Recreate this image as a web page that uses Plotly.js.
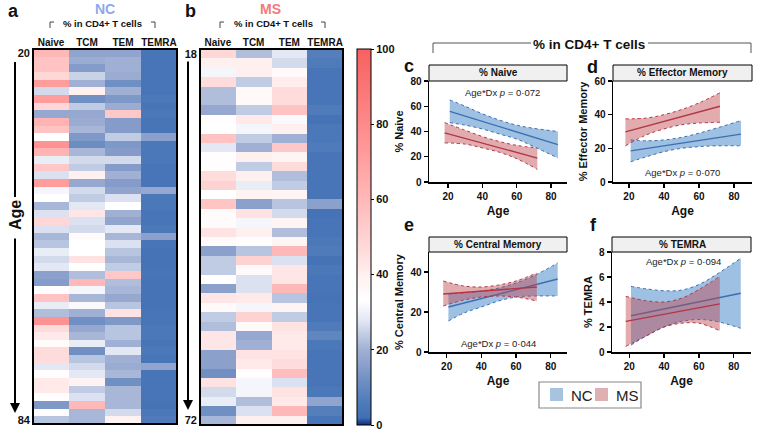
<!DOCTYPE html>
<html><head><meta charset="utf-8">
<script src="https://cdn.plot.ly/plotly-3.0.1.min.js"></script>
<style>html,body{margin:0;padding:0;background:#fff}#chart{width:771px;height:439px}</style>
</head><body><div id="chart"></div>
<script>
// ---------- Heatmap data (% in CD4+ T cells), rows ordered by age ----------
const cellTypes = ['Naive','TCM','TEM','TEMRA'];
const ncAgeLabels = ['20','84'];
const msAgeLabels = ['18','72'];
const ncNaive = [60,56,56,48,72,26,72,48,18,62,56,33,76,62,29,54,27,72,31,33,21,27,48,27,21,23,29,26,28,16,15,34,56,29,22,77,46,42,35,46,46,28,34,42,42,34,14,34,23];
const ncTCM   = [17,19,15,25,20,40,12,24,18,19,21,14,11,21,26,24,40,18,26,24,28,43,27,26,35,33,33,44,33,22,60,31,21,32,20,12,18,21,29,12,23,26,28,39,24,27,60,21,21];
const ncTEM   = [17,20,20,19,12,20,14,19,54,15,15,24,14,15,26,15,20,15,17,27,33,20,17,28,21,27,23,21,24,54,22,21,18,23,44,14,23,23,20,28,20,19,21,12,21,21,21,26,39];
const ncTEMRA = [4,4,4,4,4,4,5,4,5,4,4,16,5,5,5,4,4,4,18,5,5,4,4,5,16,4,3,3,3,4,3,3,3,3,4,4,5,5,4,5,4,17,4,4,4,4,3,5,6];
const msNaive = [48,40,31,46,22,22,18,34,33,56,28,34,34,46,50,33,55,35,35,44,35,16,24,24,34,16,43,36,24,22,43,43,16,16,12,44,26,29,12,21];
const msTCM   = [22,40,40,24,36,36,24,42,31,24,20,40,24,40,29,38,16,44,31,40,34,23,50,36,27,27,42,31,50,36,18,20,44,42,34,31,31,22,27,40];
const msTEM   = [28,26,36,41,46,46,56,32,40,20,54,38,46,22,24,38,23,26,38,22,38,60,27,43,43,60,23,38,24,44,42,42,44,46,58,27,44,42,60,40];
const msTEMRA = [7,6,4,4,4,4,6,3,5,5,6,4,4,4,4,4,16,3,4,4,5,6,3,5,4,4,3,4,4,6,9,5,4,4,4,4,5,17,7,4];

// ---------- Regression panels: fitted line + 95% CI ----------
const ncAge = [21,30,40,50,60,70,84];
const msAge = [18,30,40,50,60,72];
const ncFitAge = [21,84];
const msFitAge = [18,72];
// c: % Naive
const naiveNCfit = [56,29.6];
const naiveNChi  = [65,60,54,49,45,42.5,40];
const naiveNClo  = [47,45,42,38,34,28,19];
const naiveMSfit = [39,19];
const naiveMShi  = [47,41,36,32,29,27];
const naiveMSlo  = [31,30,27,23.5,18.5,10];
// d: % Effector Memory
const emNCfit = [18.5,28.5];
const emNChi  = [25,24.5,25,26.5,29,32,36.5];
const emNClo  = [12,15,18,20,21,21.5,21.5];
const emMSfit = [29.8,45];
const emMShi  = [37.5,38,40,43,47,53];
const emMSlo  = [21.5,28,31.5,34,35,35.5];
// e: % Central Memory
const cmNCfit = [22.5,36.5];
const cmNChi  = [29,29.5,30.5,32,34.5,38,44.5];
const cmNClo  = [15.5,19.5,22.5,25.5,27.5,28,28];
const cmMSfit = [29,32.5];
const cmMShi  = [35.5,33,32.5,33.5,35.5,39.5];
const cmMSlo  = [23,26,27.5,28,27.5,25.5];
// f: % TEMRA
const teNCfit = [2.9,4.7];
const teNChi  = [5.25,5.05,4.9,4.95,5.4,6.2,7.5];
const teNClo  = [0.55,1.3,2.0,2.45,2.6,2.45,1.9];
const teMSfit = [2.45,3.85];
const teMShi  = [4.45,4.1,4.0,4.3,5.0,6.05];
const teMSlo  = [0.45,1.3,2.0,2.3,2.3,1.7];
const pValues = ['0·072','0·070','0·044','0·094'];
const groups = ['NC','MS'];

// ---------- helpers ----------
const W=771,H=439;
const X=p=>p/W, Y=p=>1-p/H;
const FONT='Liberation Sans, Arial, Helvetica, sans-serif';
const zip=(a,b,c,d)=>a.map((v,i)=>[v,b[i],c[i],d[i]]);
const cs=[[0,'#0d2a7e'],[0.02,'#4270b4'],[0.05,'#4a78b8'],[0.12,'#7090c4'],[0.16,'#8ca0cc'],[0.20,'#a0b0d4'],[0.24,'#c0cce4'],[0.28,'#e4e8f4'],[0.33,'#ffffff'],[0.40,'#fff0f0'],[0.46,'#ffdcdc'],[0.54,'#ffc8c8'],[0.60,'#ffb8b8'],[0.72,'#ff9c9c'],[0.80,'#fd8a8a'],[1,'#f86060']];

const NCL='#3d6fb0', MSL='#b23548';
const NCF='rgba(60,130,200,0.5)', MSF='rgba(190,72,78,0.45)';

const data=[];
data.push({type:'heatmap',z:zip(ncNaive,ncTCM,ncTEM,ncTEMRA),x:cellTypes,y:ncNaive.map((_,i)=>i),
  zmin:0,zmax:100,colorscale:cs,showscale:false,xaxis:'x',yaxis:'y',hoverinfo:'skip'});
data.push({type:'heatmap',z:zip(msNaive,msTCM,msTEM,msTEMRA),x:cellTypes,y:msNaive.map((_,i)=>i),
  zmin:0,zmax:100,colorscale:cs,xaxis:'x2',yaxis:'y2',hoverinfo:'skip',
  colorbar:{x:X(357),xanchor:'left',y:Y(425),yanchor:'bottom',len:376/H,lenmode:'fraction',thickness:14,
    xpad:0,ypad:0,outlinewidth:1,outlinecolor:'#000',tickvals:[0,20,40,60,80,100],ticks:'outside',ticklen:3,
    tickcolor:'#000',tickfont:{family:FONT,size:11,weight:'bold',color:'#111'}}});

function group(ages,fitAges,lo,hi,fit,lc,fc,ax,name){
  data.push({type:'scatter',x:ages,y:lo,mode:'lines',line:{color:lc,width:1,dash:'dot',shape:'spline'},xaxis:'x'+ax,yaxis:'y'+ax,showlegend:false,hoverinfo:'skip'});
  data.push({type:'scatter',x:ages,y:hi,mode:'lines',line:{color:lc,width:1,dash:'dot',shape:'spline'},fill:'tonexty',fillcolor:fc,xaxis:'x'+ax,yaxis:'y'+ax,showlegend:false,hoverinfo:'skip'});
  data.push({type:'scatter',x:fitAges,y:fit,mode:'lines',name:name,line:{color:lc,width:1.3},xaxis:'x'+ax,yaxis:'y'+ax,showlegend:false,hoverinfo:'skip'});
}
group(ncAge,ncFitAge,naiveNClo,naiveNChi,naiveNCfit,NCL,NCF,3,groups[0]);
group(msAge,msFitAge,naiveMSlo,naiveMShi,naiveMSfit,MSL,MSF,3,groups[1]);
group(ncAge,ncFitAge,emNClo,emNChi,emNCfit,NCL,NCF,4,groups[0]);
group(msAge,msFitAge,emMSlo,emMShi,emMSfit,MSL,MSF,4,groups[1]);
group(ncAge,ncFitAge,cmNClo,cmNChi,cmNCfit,NCL,NCF,5,groups[0]);
group(msAge,msFitAge,cmMSlo,cmMShi,cmMSfit,MSL,MSF,5,groups[1]);
group(ncAge,ncFitAge,teNClo,teNChi,teNCfit,NCL,NCF,6,groups[0]);
group(msAge,msFitAge,teMSlo,teMShi,teMSfit,MSL,MSF,6,groups[1]);

const bold=(s)=>({family:FONT,size:s,weight:'bold',color:'#111'});
const hmX=(d,anchor)=>({domain:d,anchor:anchor,side:'top',type:'category',ticks:'',showline:false,showgrid:false,zeroline:false,
  tickfont:bold(10),fixedrange:true});
const hmY=(d,anchor,lab,n)=>({domain:d,anchor:anchor,autorange:'reversed',tickvals:[0,n-1],ticktext:lab,ticks:'',
  showgrid:false,zeroline:false,showline:false,tickfont:bold(11),ticklabelstandoff:2});
const pX=(d,anchor,r)=>({domain:d,anchor:anchor,range:r,tickvals:[20,40,60,80],showline:true,linecolor:'#000',linewidth:1.5,
  ticks:'outside',ticklen:4,tickwidth:1.2,tickcolor:'#000',tickfont:bold(10),showgrid:false,zeroline:false,
  title:{text:'Age',font:bold(12),standoff:6}});
const pY=(d,anchor,r,tv,t)=>({domain:d,anchor:anchor,range:r,tickvals:tv,showline:true,linecolor:'#000',linewidth:1.5,
  ticks:'outside',ticklen:4,tickwidth:1.2,tickcolor:'#000',tickfont:bold(10),showgrid:false,zeroline:false,
  title:{text:t,font:bold(11),standoff:4}});

const cx=[X(429),X(567)], dx=[X(613),X(752)], ex=[X(429),X(567)], fx=[X(612),X(751)];
const topY=[Y(182),Y(81)], botY=[Y(352),Y(252)];

const shapes=[];
const ln=(x0,y0,x1,y1,c,w)=>shapes.push({type:'line',xref:'paper',yref:'paper',x0:X(x0),y0:Y(y0),x1:X(x1),y1:Y(y1),line:{color:c||'#000',width:w||1}});
const rect=(x0,y0,x1,y1,fill,w,lc)=>shapes.push({type:'rect',xref:'paper',yref:'paper',x0:X(x0),y0:Y(y0),x1:X(x1),y1:Y(y1),fillcolor:fill||'rgba(0,0,0,0)',line:{color:lc||'#000',width:w}});
// heatmap frames
rect(33,49,177,424,null,2); rect(200,49,343,425,null,2);
// strips
rect(429,65,567,81,'#f0f0f0',1); rect(613,65,752,81,'#f0f0f0',1);
rect(429,237,567,252,'#f0f0f0',1); rect(612,237,751,252,'#f0f0f0',1);
// brackets in heatmaps
ln(50,22,54,22,'#444'); ln(50,22,50,28,'#444'); ln(151,22,155,22,'#444'); ln(155,22,155,28,'#444');
ln(220,22,224,22,'#444'); ln(220,22,220,28,'#444'); ln(321,22,325,22,'#444'); ln(325,22,325,28,'#444');
// big bracket
ln(433,43,531,43,'#555'); ln(433,43,433,53,'#555'); ln(648,43,751,43,'#555'); ln(751,43,751,53,'#555');
// age line (a) upper part
ln(15,62,15,197,'#000',2);
// legend box + keys
rect(539,382,641,408,'#fff',1.2,'#888');
rect(550,388,563,401,'#a6c4e0',0,'rgba(0,0,0,0)');
rect(595,388,608,401,'#deb0b2',0,'rgba(0,0,0,0)');

const ann=[];
const txt=(x,y,t,f,o)=>ann.push(Object.assign({xref:'paper',yref:'paper',x:X(x),y:Y(y),text:t,showarrow:false,font:f,xanchor:'center',yanchor:'middle'},o||{}));
txt(13,11,'a',bold(18)); txt(190,11,'b',bold(18));
txt(409,66,'c',bold(18)); txt(592,67,'d',bold(18)); txt(409,225,'e',bold(18)); txt(593,225,'f',bold(18));
txt(105,9,'NC',{family:FONT,size:14,weight:'bold',color:'#8ea8ec'});
txt(270,9,'MS',{family:FONT,size:14,weight:'bold',color:'#f27a7a'});
txt(102,24,'% in CD4+ T cells',bold(9.5)); txt(273,24,'% in CD4+ T cells',bold(9.5));
txt(589,44,'% in CD4+ T cells',bold(13.5));
txt(15,215,'Age',bold(16),{textangle:-90});
txt(498,73,'% Naive',bold(10)); txt(682,73,'% Effector Memory',bold(10));
txt(498,244,'% Central Memory',bold(10)); txt(682,244,'% TEMRA',bold(10));
const pf={family:FONT,size:9.5,color:'#222'};
txt(502,92,'Age*Dx <i>p</i> = '+pValues[0],pf); txt(682,173,'Age*Dx <i>p</i> = '+pValues[1],pf);
txt(498,343,'Age*Dx <i>p</i> = '+pValues[2],pf); txt(683,261,'Age*Dx <i>p</i> = '+pValues[3],pf);
const lf={family:FONT,size:15,color:'#222'};
txt(569,395,groups[0],lf,{xanchor:'left'}); txt(614,395,groups[1],lf,{xanchor:'left'});
// arrows
ann.push({xref:'paper',yref:'paper',x:X(15),y:Y(413),ax:0,ay:-176,text:'',showarrow:true,arrowhead:2,arrowsize:1,arrowwidth:2,arrowcolor:'#000'});
ann.push({xref:'paper',yref:'paper',x:X(188),y:Y(410),ax:0,ay:-350,text:'',showarrow:true,arrowhead:2,arrowsize:1,arrowwidth:2,arrowcolor:'#000'});

const layout={width:W,height:H,margin:{l:0,r:0,t:0,b:0},paper_bgcolor:'#fff',plot_bgcolor:'#fff',
  font:{family:FONT,color:'#111'},showlegend:false,
  xaxis:hmX([X(33),X(177)],'y'), yaxis:hmY([Y(424),Y(49)],'x',ncAgeLabels,ncNaive.length),
  xaxis2:hmX([X(200),X(343)],'y2'), yaxis2:hmY([Y(425),Y(49)],'x2',msAgeLabels,msNaive.length),
  xaxis3:pX(cx,'y3',[8.9,89.3]), yaxis3:pY(topY,'x3',[0,80],[0,20,40,60,80],'% Naive'),
  xaxis4:pX(dx,'y4',[10.9,90.3]), yaxis4:pY(topY,'x4',[0,60],[0,20,40,60],'% Effector Memory'),
  xaxis5:pX(ex,'y5',[9.8,89.4]), yaxis5:pY(botY,'x5',[0,50],[0,20,40],'% Central Memory'),
  xaxis6:pX(fx,'y6',[10.1,89.9]), yaxis6:pY(botY,'x6',[0,8],[0,2,4,6,8],'% TEMRA'),
  shapes:shapes, annotations:ann};

Plotly.newPlot('chart',data,layout,{staticPlot:true,displayModeBar:false});
</script></body></html>
